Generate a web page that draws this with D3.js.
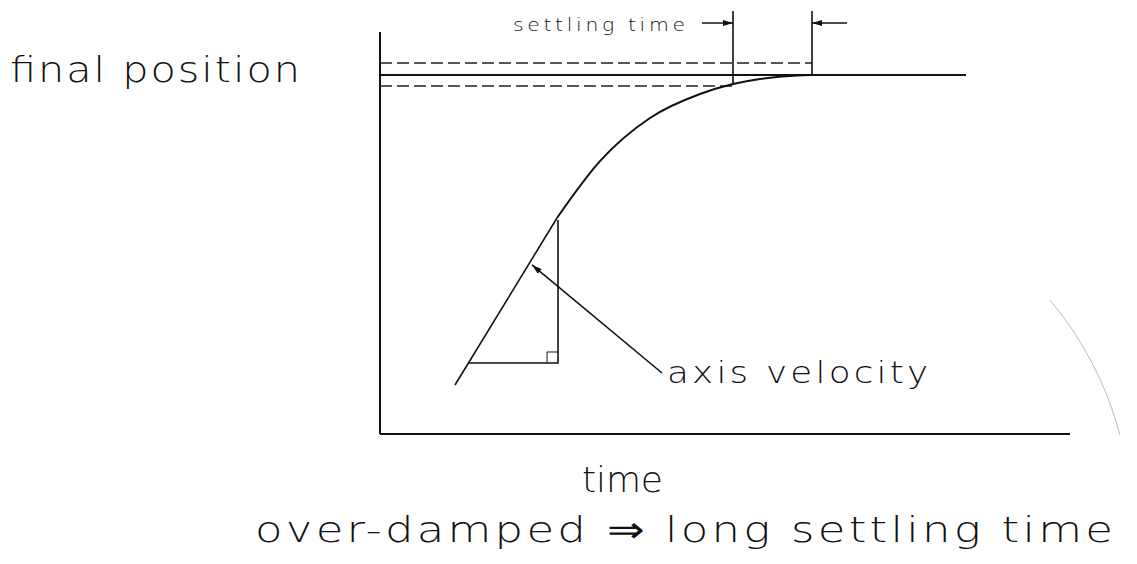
<!DOCTYPE html>
<html>
<head>
<meta charset="utf-8">
<script src="https://cdn.jsdelivr.net/npm/d3@7"></script>
<style>
  body { margin: 0; background: #fff; }
  svg text { font-family: "DejaVu Sans", "Liberation Sans", sans-serif; font-weight: 200; fill: #111; }
</style>
</head>
<body>
<div id="chart"></div>
<script>
// Over-damped step response sketch

// data (time in % of axis, position as fraction of final value)
const responseTime = [25.65, 31.88, 39.13, 46.38, 51.16, 55.07, 59.42, 62.61, 84.93];
const responsePos  = [0.6017, 0.7600, 0.8802, 0.9470, 0.9749, 0.9889, 0.9972, 1.0, 1.0];
const tangentTime = [10.87, 25.65];
const tangentPos  = [0.1365, 0.6017];
const bandPos = [1.0334, 0.9694];
const bandEnd = [62.61, 51.16];
const settleTimes = [51.16, 62.61];
const labels = ['final position', 'settling time', 'axis velocity', 'time', 'over-damped \u21D2 long settling time'];

const width = 1137, height = 564;

const x = d3.scaleLinear().domain([0, 100]).range([380, 1070]);
const y = d3.scaleLinear().domain([0, 1]).range([434, 75]);

const svg = d3.select('#chart')
    .append('svg')
    .attr('width', width)
    .attr('height', height);

svg.append('rect').attr('width', width).attr('height', height).attr('fill', '#fff');

// arrow marker
const defs = svg.append('defs');
defs.append('marker')
    .attr('id', 'arrow')
    .attr('viewBox', '0 0 10 6')
    .attr('refX', 10).attr('refY', 3)
    .attr('markerWidth', 11).attr('markerHeight', 6)
    .attr('markerUnits', 'userSpaceOnUse')
    .attr('orient', 'auto')
    .append('path')
    .attr('d', 'M0,0 L10,3 L0,6 Z')
    .attr('fill', '#111');

const ink = g => g.attr('stroke', '#111').attr('fill', 'none');

// axes
svg.append('line').call(ink).attr('stroke-width', 2)
    .attr('x1', x(0)).attr('y1', y(1.12)).attr('x2', x(0)).attr('y2', y(0));
svg.append('line').call(ink).attr('stroke-width', 2)
    .attr('x1', x(0)).attr('y1', y(0)).attr('x2', x(100)).attr('y2', y(0));

// final position line + tolerance band
svg.append('line').call(ink).attr('stroke-width', 1.8)
    .attr('x1', x(0)).attr('y1', y(1)).attr('x2', x(84.93)).attr('y2', y(1));
svg.selectAll('.band')
    .data(bandPos)
    .enter()
    .append('line')
    .attr('class', 'band')
    .call(ink)
    .attr('stroke', '#222')
    .attr('stroke-width', 1.4)
    .attr('stroke-dasharray', '12,5')
    .attr('x1', x(0))
    .attr('x2', (d, i) => x(bandEnd[i]))
    .attr('y1', d => y(d))
    .attr('y2', d => y(d));

// response curve
const line = d3.line()
    .x(d => x(d[0]))
    .y(d => y(d[1]))
    .curve(d3.curveMonotoneX);
svg.append('path').call(ink).attr('stroke-width', 2)
    .attr('d', line(d3.zip(responseTime, responsePos)));

// tangent (initial velocity)
svg.append('path').call(ink).attr('stroke-width', 1.6)
    .attr('d', d3.line().x(d => x(d[0])).y(d => y(d[1]))(d3.zip(tangentTime, tangentPos)));

// slope triangle
const cornerT = 25.8, cornerP = 0.1978;
svg.append('path').call(ink).attr('stroke-width', 1.6)
    .attr('d', `M${x(12.75)},${y(cornerP)} L${x(cornerT)},${y(cornerP)} L${x(cornerT)},${y(0.5962)}`);
svg.append('path').call(ink).attr('stroke-width', 1)
    .attr('d', `M${x(cornerT) - 11},${y(cornerP)} L${x(cornerT) - 11},${y(cornerP) - 11} L${x(cornerT)},${y(cornerP) - 11}`);

// leader to "axis velocity"
svg.append('line').call(ink).attr('stroke-width', 1.6)
    .attr('x1', x(40.87)).attr('y1', y(0.1699))
    .attr('x2', x(22.03)).attr('y2', y(0.4708))
    .attr('marker-end', 'url(#arrow)');

// settling time markers
svg.append('line').call(ink).attr('stroke-width', 1.6)
    .attr('x1', x(settleTimes[0])).attr('y1', y(1.178))
    .attr('x2', x(settleTimes[0])).attr('y2', y(0.972));
svg.append('line').call(ink).attr('stroke-width', 1.6)
    .attr('x1', x(settleTimes[1])).attr('y1', y(1.178))
    .attr('x2', x(settleTimes[1])).attr('y2', y(1));
svg.append('line').call(ink).attr('stroke-width', 1.5)
    .attr('x1', x(settleTimes[0]) - 31).attr('y1', y(1.1448))
    .attr('x2', x(settleTimes[0])).attr('y2', y(1.1448))
    .attr('marker-end', 'url(#arrow)');
svg.append('line').call(ink).attr('stroke-width', 1.5)
    .attr('x1', x(settleTimes[1]) + 35).attr('y1', y(1.1448))
    .attr('x2', x(settleTimes[1])).attr('y2', y(1.1448))
    .attr('marker-end', 'url(#arrow)');

// faint page edge on the right
svg.append('path')
    .attr('fill', 'none').attr('stroke', '#bbb').attr('stroke-width', 1)
    .attr('d', 'M1050,300 Q1100,360 1120,435');

// text, stretched horizontally to mimic the wide plotter lettering
const textSpecs = [
    { x: 10,  y: 82,  size: 36, len: 290, sx: 1.15 },
    { x: 513, y: 31,  size: 17, len: 172, sx: 1.2 },
    { x: 667, y: 383, size: 31, len: 261, sx: 1.15 },
    { x: 582, y: 492, size: 36, len: 81,  sx: 1.0 },
    { x: 255, y: 542, size: 36, len: 858, sx: 1.25 }
];
svg.selectAll('.label')
    .data(labels)
    .enter()
    .append('text')
    .attr('class', 'label')
    .attr('transform', (d, i) => `translate(${textSpecs[i].x},${textSpecs[i].y}) scale(${textSpecs[i].sx},1)`)
    .attr('font-size', (d, i) => textSpecs[i].size)
    .attr('textLength', (d, i) => textSpecs[i].len / textSpecs[i].sx)
    .attr('lengthAdjust', 'spacing')
    .text(d => d);
</script>
</body>
</html>
